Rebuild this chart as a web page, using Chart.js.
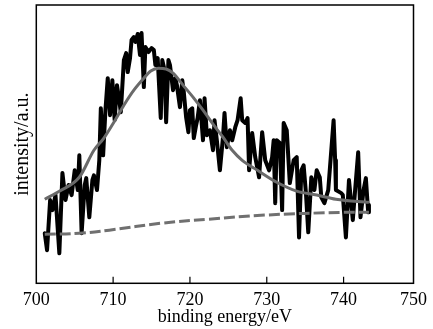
<!DOCTYPE html>
<html>
<head>
<meta charset="utf-8">
<script src="https://cdn.jsdelivr.net/npm/chart.js@4/dist/chart.umd.min.js"></script>
<style>
  html, body { margin: 0; padding: 0; background: #fff; }
  #wrap { width: 433px; height: 329px; }
</style>
</head>
<body>
<div id="wrap"><canvas id="c" width="433" height="329"></canvas></div>
<script>
// Measured spectrum (binding energy / eV, intensity / a.u.)
const energy = [701.1,701.4,701.8,702.1,702.5,703.0,703.4,703.8,704.2,704.6,705.0,705.4,705.6,705.9,706.3,706.5,706.9,707.3,707.5,707.9,
  708.2,708.4,708.7,709.0,709.3,709.6,709.9,710.2,710.5,710.8,711.0,711.4,711.7,711.9,712.2,712.4,712.7,712.9,713.2,713.5,
  713.7,714.0,714.2,714.6,715.0,715.3,715.5,715.8,716.2,716.4,716.7,716.9,717.2,717.4,717.8,718.1,718.3,718.7,719.0,719.2,
  719.5,719.8,720.0,720.3,720.5,720.8,721.0,721.3,721.7,721.9,722.2,722.6,723.0,723.2,723.5,723.9,724.3,724.5,724.8,725.2,
  725.5,725.9,726.2,726.6,726.8,727.2,727.5,727.7,728.1,728.5,729.0,729.4,729.8,730.3,730.7,730.9,731.1,731.3,731.7,732.0,
  732.2,732.6,733.0,733.5,733.9,734.2,734.5,734.8,735.1,735.4,735.8,736.2,736.5,736.9,737.1,737.5,738.0,738.4,738.7,738.9,
  739.0,739.7,739.9,740.3,740.7,741.2,741.5,741.9,742.2,742.6,742.9,743.2,743.3];
const counts = [18.0,11.9,29.9,26.3,31.7,10.8,39.6,29.9,35.3,31.7,40.6,33.5,46.0,18.0,35.3,37.8,23.7,37.1,38.8,33.5,
  44.2,62.9,46.0,62.2,73.7,60.4,73.0,58.6,71.2,65.8,61.5,80.2,82.7,75.9,80.9,87.4,88.5,86.7,89.6,82.0,
  89.9,70.5,84.9,83.1,84.5,83.8,78.4,80.9,59.4,80.2,76.6,57.9,80.2,78.4,69.4,73.7,71.2,63.3,73.0,68.7,
  59.7,54.3,62.2,62.9,52.2,56.8,59.4,65.8,51.4,66.5,53.2,55.0,47.8,58.6,51.4,40.6,52.5,61.2,48.9,55.0,
  51.4,56.1,58.6,66.5,58.6,57.6,59.4,40.6,54.0,45.3,38.1,54.3,44.2,40.6,45.3,51.4,28.8,51.4,50.4,26.3,
  57.6,55.0,36.0,44.2,45.3,16.5,40.6,42.4,32.4,18.3,38.1,33.5,40.6,38.1,30.9,28.8,33.5,47.8,58.6,44.2,
  33.5,32.4,31.7,16.5,37.1,22.7,33.5,47.1,23.7,33.5,37.8,25.5,28.1];

// Fitted peak envelope
const fitEnergy = [701.1,703.0,705.6,707.5,708.8,710.1,711.4,712.7,714.0,714.9,715.9,716.9,717.8,719.1,720.4,721.7,723.0,
  724.3,725.5,726.8,728.8,731.3,733.9,736.5,739.0,743.3];
const fitIntensity = [30.2,33.1,38.1,47.8,52.2,57.9,64.0,69.4,73.7,76.3,77.3,77.0,75.5,71.2,66.9,62.2,57.2,
  52.5,47.8,44.2,40.6,36.3,33.1,31.7,30.2,29.1];

// Background (baseline)
const baseEnergy = [701.1,705.6,709.5,716.3,722.3,729.7,739.9,743.3];
const baseIntensity = [17.6,18.0,19.1,21.6,23.0,24.5,25.5,25.5];

// x axis ticks
const tickValues = [700,710,720,730,740,749.1];
const tickLabels = ['700','710','720','730','740','750'];
const xMin = 700, xMax = 749.1;

const toPts = (xs, ys) => xs.map((x, i) => ({x: x, y: ys[i]}));

const serif = "'Liberation Serif', 'Times New Roman', serif";

const framePlugin = {
  id: 'frame',
  afterDatasetsDraw(chart) {
    const {ctx, chartArea: a, scales} = chart;
    ctx.save();
    ctx.strokeStyle = '#000';
    ctx.lineWidth = 1.5;
    ctx.strokeRect(a.left, a.top, a.right - a.left, a.bottom - a.top);
    ctx.lineWidth = 1.2;
    ctx.beginPath();
    tickValues.forEach(v => {
      const px = scales.x.getPixelForValue(v);
      if (px > a.left + 2 && px < a.right - 2) {
        ctx.moveTo(px, a.bottom);
        ctx.lineTo(px, a.bottom - 6.5);
      }
    });
    ctx.stroke();
    ctx.restore();
  }
};

new Chart(document.getElementById('c'), {
  type: 'line',
  data: {
    datasets: [
      {
        label: 'fit',
        data: toPts(fitEnergy, fitIntensity),
        borderColor: '#6a6a6a',
        borderWidth: 3,
        pointRadius: 0,
        tension: 0.4,
        cubicInterpolationMode: 'monotone',
        fill: false
      },
      {
        label: 'background',
        data: toPts(baseEnergy, baseIntensity),
        borderColor: '#707070',
        borderWidth: 3,
        borderDash: [11, 4],
        pointRadius: 0,
        tension: 0.4,
        fill: false
      },
      {
        label: 'spectrum',
        data: toPts(energy, counts),
        borderColor: '#000000',
        borderWidth: 4,
        pointRadius: 0,
        tension: 0,
        borderJoinStyle: 'round',
        borderCapStyle: 'round',
        fill: false
      }
    ]
  },
  options: {
    responsive: false,
    animation: false,
    devicePixelRatio: 1,
    layout: { padding: { top: 5, right: 14.7, left: 0, bottom: 0 } },
    plugins: { legend: { display: false }, tooltip: { enabled: false } },
    scales: {
      x: {
        type: 'linear',
        min: xMin,
        max: xMax,
        afterBuildTicks(scale) { scale.ticks = tickValues.map(v => ({ value: v })); },
        afterFit(scale) { scale.height = 45.7; },
        grid: { display: false, drawTicks: false },
        border: { display: false },
        ticks: {
          autoSkip: false,
          maxRotation: 0,
          padding: 6,
          color: '#000',
          font: { family: serif, size: 18 },
          callback(value, index) { return tickLabels[index]; }
        },
        title: {
          display: true,
          text: 'binding energy/eV',
          color: '#000',
          font: { family: serif, size: 18 },
          padding: { top: 0, bottom: 1 }
        }
      },
      y: {
        min: 0,
        max: 100,
        afterFit(scale) { scale.width = 36.3; },
        grid: { display: false, drawTicks: false },
        border: { display: false },
        ticks: { display: false },
        title: {
          display: true,
          text: 'intensity/a.u.',
          color: '#000',
          font: { family: serif, size: 20 },
          padding: { top: 11, bottom: 0 }
        }
      }
    }
  },
  plugins: [framePlugin]
});
</script>
</body>
</html>
